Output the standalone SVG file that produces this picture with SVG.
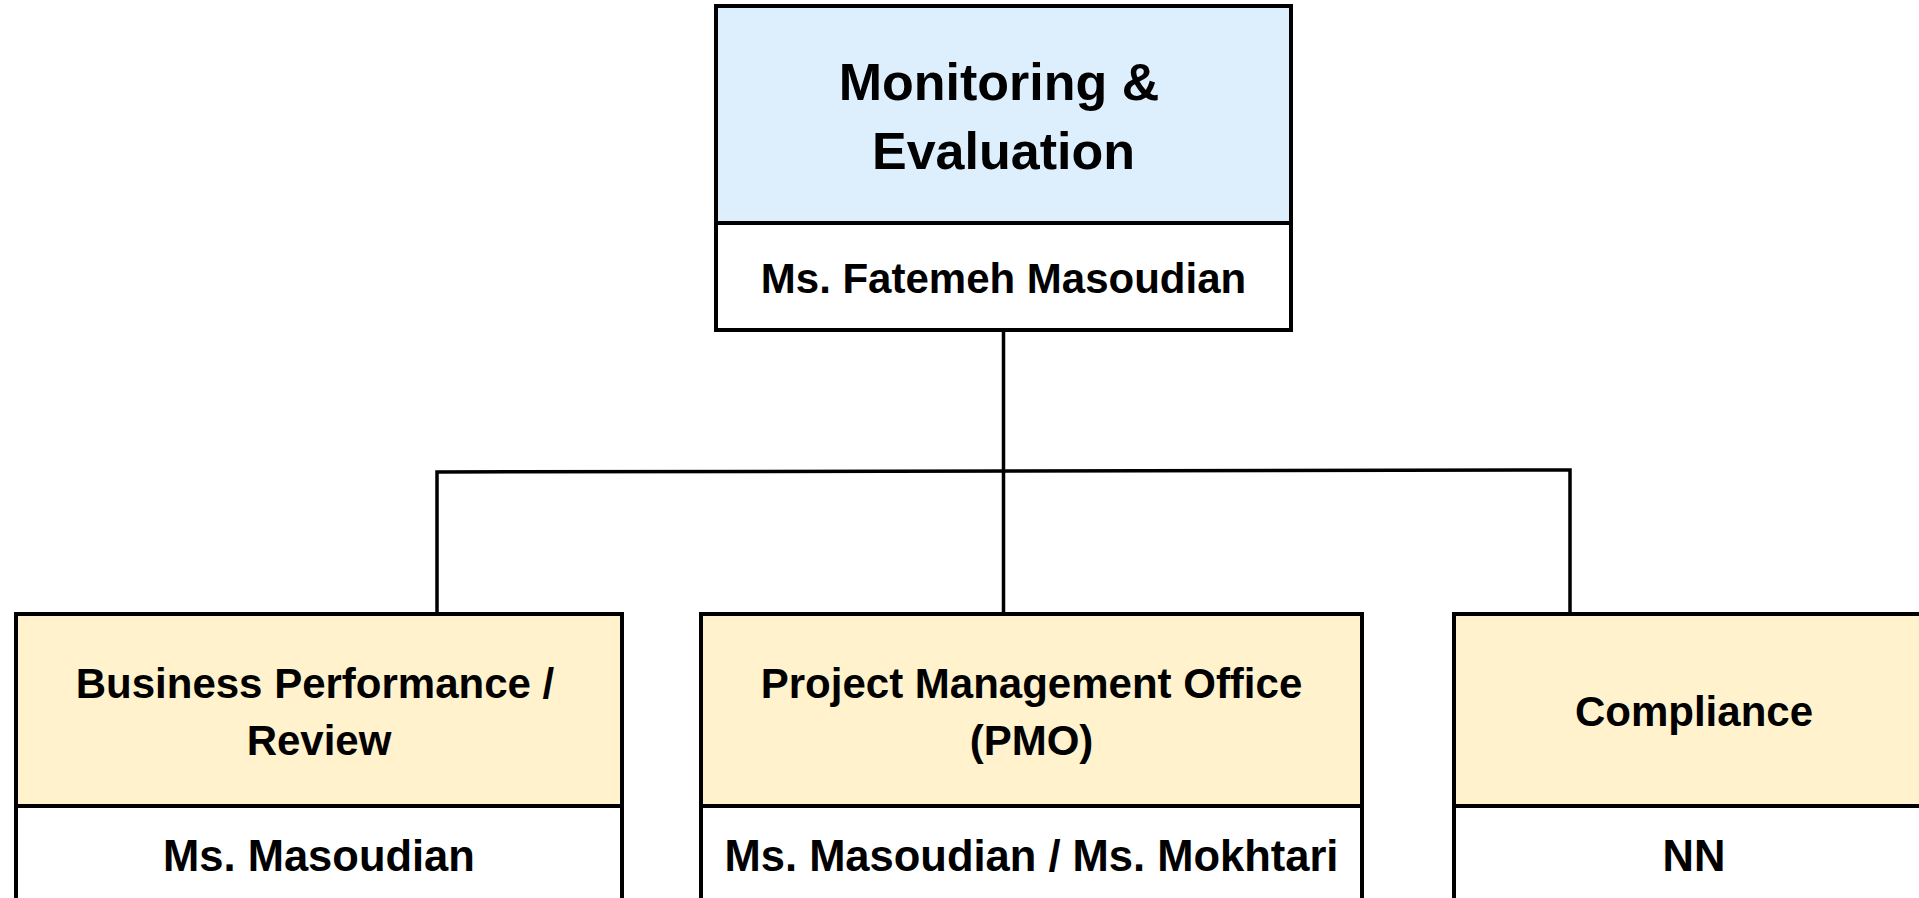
<svg xmlns="http://www.w3.org/2000/svg" width="1919" height="898" viewBox="0 0 1919 898">
<style>
.box{stroke:#000;stroke-width:4}
.top{fill:#DDEEFD}
.child{fill:#FFF2CC}
.white{fill:#FFFFFF}
.t{font-family:"Liberation Sans",Arial,sans-serif;font-weight:bold;fill:#000;text-anchor:middle}
.big{font-size:52px}
.med{font-size:42px}
.name{font-size:43.5px}
.conn{fill:none;stroke:#000;stroke-width:3.5}
</style>
<rect width="1919" height="898" fill="#FFFFFF"/>
<g id="connectors">
<path class="conn" d="M1003.5 330 V614"/>
<path class="conn" d="M437 614 V472 L1570 470 V614"/>
</g>
<g id="node-me">
<rect class="box top" x="716" y="6" width="575" height="217"/>
<rect class="box white" x="716" y="223" width="575" height="107"/>
<text class="t big" x="999" y="100">Monitoring &amp;</text>
<text class="t big" x="1003.5" y="169">Evaluation</text>
<text class="t med" x="1003.5" y="293">Ms. Fatemeh Masoudian</text>
</g>
<g id="node-bpr">
<rect class="box child" x="16" y="614" width="606" height="192"/>
<rect class="box white" x="16" y="806" width="606" height="110"/>
<text class="t med" x="315" y="698">Business Performance /</text>
<text class="t med" x="319" y="755">Review</text>
<text class="t name" x="319" y="871">Ms. Masoudian</text>
</g>
<g id="node-pmo">
<rect class="box child" x="701" y="614" width="661" height="192"/>
<rect class="box white" x="701" y="806" width="661" height="110"/>
<text class="t med" x="1031.5" y="698">Project Management Office</text>
<text class="t med" x="1031.5" y="755">(PMO)</text>
<text class="t name" x="1031.5" y="871">Ms. Masoudian / Ms. Mokhtari</text>
</g>
<g id="node-compliance">
<rect class="box child" x="1454" y="614" width="480" height="192"/>
<rect class="box white" x="1454" y="806" width="480" height="110"/>
<text class="t med" x="1694" y="726">Compliance</text>
<text class="t name" x="1694" y="871">NN</text>
</g>
</svg>
